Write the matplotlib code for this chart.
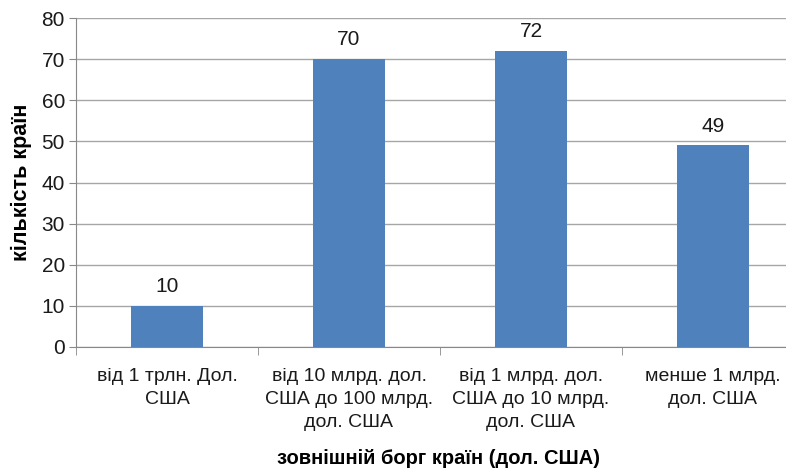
import matplotlib
matplotlib.use("Agg")
import matplotlib.pyplot as plt
import numpy as np

categories = [
    "від 1 трлн. Дол.\nСША",
    "від 10 млрд. дол.\nСША до 100 млрд.\nдол. США",
    "від 1 млрд. дол.\nСША до 10 млрд.\nдол. США",
    "менше 1 млрд.\nдол. США",
]
counts = [10, 70, 72, 49]
y_ticks = [0, 10, 20, 30, 40, 50, 60, 70, 80]

plt.rcParams["font.family"] = ["Liberation Sans", "DejaVu Sans"]

fig = plt.figure(figsize=(7.86, 4.68), dpi=100)
ax = fig.add_axes([76 / 786, 1 - 347 / 468, 728 / 786, 329 / 468])

x = np.arange(len(categories))
ax.bar(x, counts, width=0.4, color="#4f81bd", zorder=3)

for xi, v in zip(x, counts):
    ax.annotate(str(v), (xi, v), xytext=(0, 7), textcoords="offset points",
                ha="center", va="bottom", fontsize=15, color="#1a1a1a")

ax.set_xlim(-0.5, len(categories) - 0.5)
ax.set_ylim(0, 80)
ax.set_yticks(y_ticks)
ax.tick_params(axis="y", labelsize=15, length=5, color="#888888", pad=3, labelcolor="#1a1a1a")

ax.set_xticks(x)
ax.set_xticklabels(categories, fontsize=14, color="#1a1a1a", linespacing=1.45)
ax.tick_params(axis="x", which="major", length=0, pad=15)
ax.set_xticks(np.arange(-0.5, len(categories) + 0.5, 1), minor=True)
ax.tick_params(axis="x", which="minor", length=6, color="#888888")

ax.grid(axis="y", color="#a6a6a6", linewidth=1, zorder=0)
for s in ["top", "right"]:
    ax.spines[s].set_visible(False)
for s in ["left", "bottom"]:
    ax.spines[s].set_color("#888888")

ax.set_ylabel("кількість країн", fontsize=15.5, fontweight="bold")
ax.yaxis.set_label_coords(-0.06, 0.5)
fig.text(438 / 786, 1 - 458 / 468, "зовнішній борг країн (дол. США)",
         ha="center", va="center", fontsize=14.5, fontweight="bold")

fig.savefig("out.png", dpi=100)
